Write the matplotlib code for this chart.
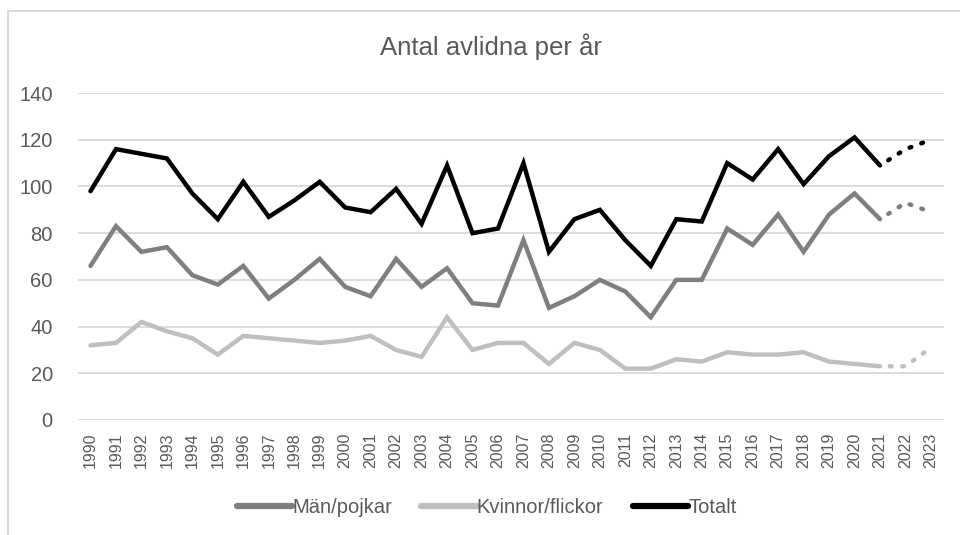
import matplotlib
matplotlib.use("Agg")
import matplotlib.pyplot as plt
from matplotlib.patches import Rectangle

plt.rcParams['font.family'] = ['Liberation Sans', 'DejaVu Sans']

years = [str(y) for y in range(1990, 2024)]
men = [66, 83, 72, 74, 62, 58, 66, 52, 60, 69, 57, 53, 69, 57, 65, 50, 49, 77, 48, 53,
       60, 55, 44, 60, 60, 82, 75, 88, 72, 88, 97, 86, 93, 89]
women = [32, 33, 42, 38, 35, 28, 36, 35, 34, 33, 34, 36, 30, 27, 44, 30, 33, 33, 24, 33,
         30, 22, 22, 26, 25, 29, 28, 28, 29, 25, 24, 23, 23, 31]
total = [98, 116, 114, 112, 97, 86, 102, 87, 94, 102, 91, 89, 99, 84, 109, 80, 82, 110, 72, 86,
         90, 77, 66, 86, 85, 110, 103, 116, 101, 113, 121, 109, 116, 120]
last_actual = "2021"

series = [("Män/pojkar", men, "#7f7f7f"),
          ("Kvinnor/flickor", women, "#bfbfbf"),
          ("Totalt", total, "#000000")]

fig = plt.figure(figsize=(9.6, 5.35), dpi=100)
ax = fig.add_axes([0.081, 0.215, 0.902, 0.611])

split = years.index(last_actual)
x = list(range(len(years)))
for name, vals, col in series:
    ax.plot(x[:split + 1], vals[:split + 1], color=col, lw=3.2, label=name,
            solid_joinstyle='miter', solid_capstyle='round')
    ax.plot(x[split:], vals[split:], color=col, lw=3.2,
            linestyle=(0.6, (0.4, 2.4)), dash_capstyle='round')

ax.set_xlim(-0.5, len(years) - 0.5)
ax.set_ylim(0, 140)
ax.set_yticks(range(0, 141, 20))
ax.set_xticks(x)
ax.set_xticklabels(years, rotation=90)
ax.tick_params(axis='x', length=0, pad=9, labelsize=11.5, colors='#595959')
ax.tick_params(axis='y', length=0, pad=18, labelsize=14.5, colors='#595959')
ax.grid(axis='y', color='#d9d9d9', lw=1.3)
ax.set_axisbelow(True)
for s in ax.spines.values():
    s.set_visible(False)

fig.text(0.511, 0.912, "Antal avlidna per år", ha='center', va='center',
         fontsize=18.5, color='#595959')

leg = fig.legend(loc='center', bbox_to_anchor=(0.507, 0.052), ncol=3, frameon=False,
                 fontsize=14.5, handlelength=2.75, handletextpad=0.0, columnspacing=1.45,
                 labelcolor='#595959')
for line in leg.get_lines():
    line.set_linewidth(4.5)

fig.patches.append(Rectangle((7.5 / 960, -0.05), 1.1, 1 - 10.5 / 535 + 0.05,
                             transform=fig.transFigure, fill=False,
                             edgecolor='#d9d9d9', lw=1.5))

fig.savefig("out.png", dpi=100)
